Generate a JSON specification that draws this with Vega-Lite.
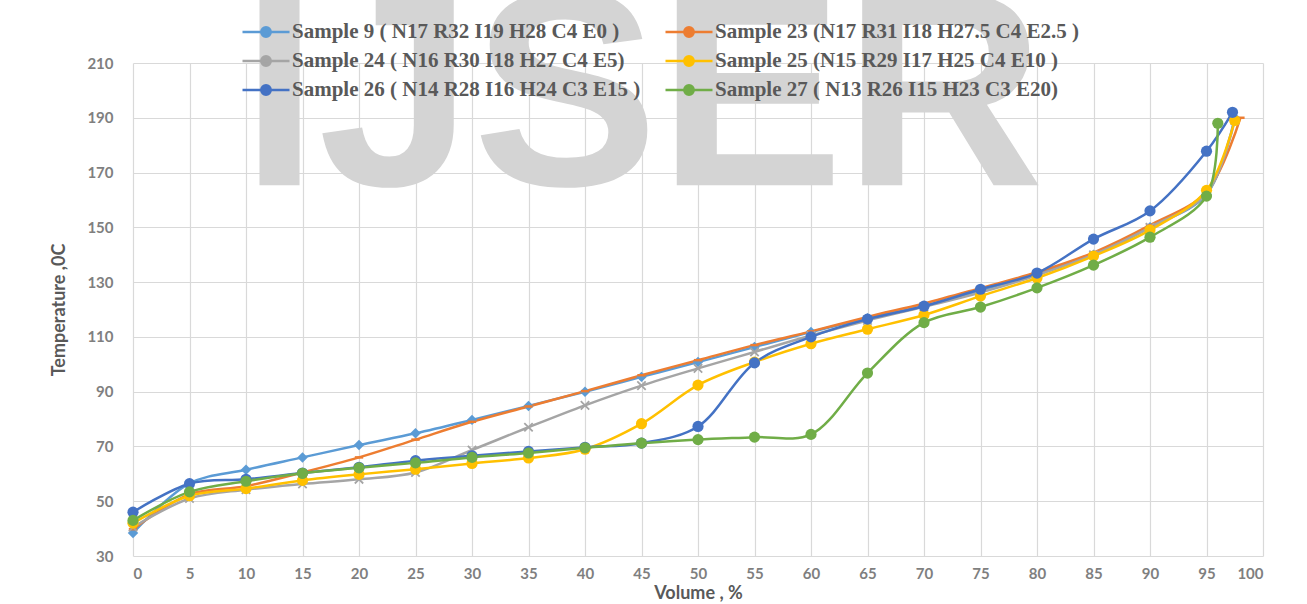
{
  "$schema": "https://vega.github.io/schema/vega-lite/v6.json",
  "width": 1130,
  "height": 493,
  "autosize": {"type": "none"},
  "padding": {"left": 133, "top": 63, "right": 44, "bottom": 48},
  "background": "white",
  "config": {
    "view": {"stroke": null},
    "font": "Lato",
    "axis": {
      "grid": true,
      "gridColor": "#d9d9d9",
      "gridWidth": 1.2,
      "ticks": false,
      "domain": false,
      "labelFont": "Lato",
      "labelFontSize": 15,
      "labelFontWeight": "bold",
      "labelColor": "#7f7f7f",
      "titleFont": "Lato",
      "titleFontSize": 18,
      "titleFontWeight": "bold",
      "titleColor": "#595959"
    },
    "axisX": {"labelPadding": 10, "titlePadding": 3},
    "axisY": {"labelPadding": 20, "titlePadding": 18}
  },
  "datasets": {
    "curves": [
      {"sample": "Sample 9 ( N17 R32 I19 H28 C4 E0 )", "volume": 0, "temp": 38.4},
      {"sample": "Sample 9 ( N17 R32 I19 H28 C4 E0 )", "volume": 5, "temp": 56.5},
      {"sample": "Sample 9 ( N17 R32 I19 H28 C4 E0 )", "volume": 10, "temp": 61.5},
      {"sample": "Sample 9 ( N17 R32 I19 H28 C4 E0 )", "volume": 15, "temp": 66},
      {"sample": "Sample 9 ( N17 R32 I19 H28 C4 E0 )", "volume": 20, "temp": 70.5},
      {"sample": "Sample 9 ( N17 R32 I19 H28 C4 E0 )", "volume": 25, "temp": 74.8},
      {"sample": "Sample 9 ( N17 R32 I19 H28 C4 E0 )", "volume": 30, "temp": 79.7},
      {"sample": "Sample 9 ( N17 R32 I19 H28 C4 E0 )", "volume": 35, "temp": 84.8},
      {"sample": "Sample 9 ( N17 R32 I19 H28 C4 E0 )", "volume": 40, "temp": 90},
      {"sample": "Sample 9 ( N17 R32 I19 H28 C4 E0 )", "volume": 45, "temp": 95.4},
      {"sample": "Sample 9 ( N17 R32 I19 H28 C4 E0 )", "volume": 50, "temp": 100.8},
      {"sample": "Sample 9 ( N17 R32 I19 H28 C4 E0 )", "volume": 55, "temp": 106.3},
      {"sample": "Sample 9 ( N17 R32 I19 H28 C4 E0 )", "volume": 60, "temp": 111.8},
      {"sample": "Sample 9 ( N17 R32 I19 H28 C4 E0 )", "volume": 65, "temp": 116.8},
      {"sample": "Sample 9 ( N17 R32 I19 H28 C4 E0 )", "volume": 70, "temp": 121.3},
      {"sample": "Sample 9 ( N17 R32 I19 H28 C4 E0 )", "volume": 75, "temp": 127},
      {"sample": "Sample 9 ( N17 R32 I19 H28 C4 E0 )", "volume": 80, "temp": 133},
      {"sample": "Sample 9 ( N17 R32 I19 H28 C4 E0 )", "volume": 85, "temp": 140},
      {"sample": "Sample 9 ( N17 R32 I19 H28 C4 E0 )", "volume": 90, "temp": 150},
      {"sample": "Sample 9 ( N17 R32 I19 H28 C4 E0 )", "volume": 95, "temp": 162},
      {"sample": "Sample 9 ( N17 R32 I19 H28 C4 E0 )", "volume": 97.5, "temp": 190},

      {"sample": "Sample 23 (N17 R31 I18 H27.5 C4 E2.5 )", "volume": 0, "temp": 39.8},
      {"sample": "Sample 23 (N17 R31 I18 H27.5 C4 E2.5 )", "volume": 5, "temp": 52.5},
      {"sample": "Sample 23 (N17 R31 I18 H27.5 C4 E2.5 )", "volume": 10, "temp": 55.5},
      {"sample": "Sample 23 (N17 R31 I18 H27.5 C4 E2.5 )", "volume": 15, "temp": 60.5},
      {"sample": "Sample 23 (N17 R31 I18 H27.5 C4 E2.5 )", "volume": 20, "temp": 66},
      {"sample": "Sample 23 (N17 R31 I18 H27.5 C4 E2.5 )", "volume": 25, "temp": 72.5},
      {"sample": "Sample 23 (N17 R31 I18 H27.5 C4 E2.5 )", "volume": 30, "temp": 79},
      {"sample": "Sample 23 (N17 R31 I18 H27.5 C4 E2.5 )", "volume": 35, "temp": 84.6},
      {"sample": "Sample 23 (N17 R31 I18 H27.5 C4 E2.5 )", "volume": 40, "temp": 90.2},
      {"sample": "Sample 23 (N17 R31 I18 H27.5 C4 E2.5 )", "volume": 45, "temp": 96},
      {"sample": "Sample 23 (N17 R31 I18 H27.5 C4 E2.5 )", "volume": 50, "temp": 101.5},
      {"sample": "Sample 23 (N17 R31 I18 H27.5 C4 E2.5 )", "volume": 55, "temp": 107},
      {"sample": "Sample 23 (N17 R31 I18 H27.5 C4 E2.5 )", "volume": 60, "temp": 112},
      {"sample": "Sample 23 (N17 R31 I18 H27.5 C4 E2.5 )", "volume": 65, "temp": 117.3},
      {"sample": "Sample 23 (N17 R31 I18 H27.5 C4 E2.5 )", "volume": 70, "temp": 122.2},
      {"sample": "Sample 23 (N17 R31 I18 H27.5 C4 E2.5 )", "volume": 75, "temp": 127.8},
      {"sample": "Sample 23 (N17 R31 I18 H27.5 C4 E2.5 )", "volume": 80, "temp": 133.6},
      {"sample": "Sample 23 (N17 R31 I18 H27.5 C4 E2.5 )", "volume": 85, "temp": 140.8},
      {"sample": "Sample 23 (N17 R31 I18 H27.5 C4 E2.5 )", "volume": 90, "temp": 150.8},
      {"sample": "Sample 23 (N17 R31 I18 H27.5 C4 E2.5 )", "volume": 95, "temp": 163},
      {"sample": "Sample 23 (N17 R31 I18 H27.5 C4 E2.5 )", "volume": 98, "temp": 190},

      {"sample": "Sample 24 ( N16 R30 I18 H27 C4 E5)", "volume": 0, "temp": 40.5},
      {"sample": "Sample 24 ( N16 R30 I18 H27 C4 E5)", "volume": 5, "temp": 51},
      {"sample": "Sample 24 ( N16 R30 I18 H27 C4 E5)", "volume": 10, "temp": 54.2},
      {"sample": "Sample 24 ( N16 R30 I18 H27 C4 E5)", "volume": 15, "temp": 56.3},
      {"sample": "Sample 24 ( N16 R30 I18 H27 C4 E5)", "volume": 20, "temp": 58},
      {"sample": "Sample 24 ( N16 R30 I18 H27 C4 E5)", "volume": 25, "temp": 60.5},
      {"sample": "Sample 24 ( N16 R30 I18 H27 C4 E5)", "volume": 30, "temp": 68.7},
      {"sample": "Sample 24 ( N16 R30 I18 H27 C4 E5)", "volume": 35, "temp": 77},
      {"sample": "Sample 24 ( N16 R30 I18 H27 C4 E5)", "volume": 40, "temp": 85},
      {"sample": "Sample 24 ( N16 R30 I18 H27 C4 E5)", "volume": 45, "temp": 92.2},
      {"sample": "Sample 24 ( N16 R30 I18 H27 C4 E5)", "volume": 50, "temp": 98.5},
      {"sample": "Sample 24 ( N16 R30 I18 H27 C4 E5)", "volume": 55, "temp": 104.5},
      {"sample": "Sample 24 ( N16 R30 I18 H27 C4 E5)", "volume": 60, "temp": 110.5},
      {"sample": "Sample 24 ( N16 R30 I18 H27 C4 E5)", "volume": 65, "temp": 116},
      {"sample": "Sample 24 ( N16 R30 I18 H27 C4 E5)", "volume": 70, "temp": 121},
      {"sample": "Sample 24 ( N16 R30 I18 H27 C4 E5)", "volume": 75, "temp": 126.2},
      {"sample": "Sample 24 ( N16 R30 I18 H27 C4 E5)", "volume": 80, "temp": 132.5},
      {"sample": "Sample 24 ( N16 R30 I18 H27 C4 E5)", "volume": 85, "temp": 140},
      {"sample": "Sample 24 ( N16 R30 I18 H27 C4 E5)", "volume": 90, "temp": 150},
      {"sample": "Sample 24 ( N16 R30 I18 H27 C4 E5)", "volume": 95, "temp": 162.3},
      {"sample": "Sample 24 ( N16 R30 I18 H27 C4 E5)", "volume": 97.5, "temp": 189},

      {"sample": "Sample 25 (N15 R29 I17 H25 C4 E10 )", "volume": 0, "temp": 42},
      {"sample": "Sample 25 (N15 R29 I17 H25 C4 E10 )", "volume": 5, "temp": 52},
      {"sample": "Sample 25 (N15 R29 I17 H25 C4 E10 )", "volume": 10, "temp": 54.6},
      {"sample": "Sample 25 (N15 R29 I17 H25 C4 E10 )", "volume": 15, "temp": 57.6},
      {"sample": "Sample 25 (N15 R29 I17 H25 C4 E10 )", "volume": 20, "temp": 59.8},
      {"sample": "Sample 25 (N15 R29 I17 H25 C4 E10 )", "volume": 25, "temp": 61.7},
      {"sample": "Sample 25 (N15 R29 I17 H25 C4 E10 )", "volume": 30, "temp": 63.8},
      {"sample": "Sample 25 (N15 R29 I17 H25 C4 E10 )", "volume": 35, "temp": 65.8},
      {"sample": "Sample 25 (N15 R29 I17 H25 C4 E10 )", "volume": 40, "temp": 69},
      {"sample": "Sample 25 (N15 R29 I17 H25 C4 E10 )", "volume": 45, "temp": 78.3},
      {"sample": "Sample 25 (N15 R29 I17 H25 C4 E10 )", "volume": 50, "temp": 92.4},
      {"sample": "Sample 25 (N15 R29 I17 H25 C4 E10 )", "volume": 55, "temp": 100.8},
      {"sample": "Sample 25 (N15 R29 I17 H25 C4 E10 )", "volume": 60, "temp": 107.5},
      {"sample": "Sample 25 (N15 R29 I17 H25 C4 E10 )", "volume": 65, "temp": 112.8},
      {"sample": "Sample 25 (N15 R29 I17 H25 C4 E10 )", "volume": 70, "temp": 118},
      {"sample": "Sample 25 (N15 R29 I17 H25 C4 E10 )", "volume": 75, "temp": 124.9},
      {"sample": "Sample 25 (N15 R29 I17 H25 C4 E10 )", "volume": 80, "temp": 131.5},
      {"sample": "Sample 25 (N15 R29 I17 H25 C4 E10 )", "volume": 85, "temp": 139.5},
      {"sample": "Sample 25 (N15 R29 I17 H25 C4 E10 )", "volume": 90, "temp": 149},
      {"sample": "Sample 25 (N15 R29 I17 H25 C4 E10 )", "volume": 95, "temp": 163.5},
      {"sample": "Sample 25 (N15 R29 I17 H25 C4 E10 )", "volume": 97.5, "temp": 189},

      {"sample": "Sample 26 ( N14 R28 I16 H24 C3 E15 )", "volume": 0, "temp": 46},
      {"sample": "Sample 26 ( N14 R28 I16 H24 C3 E15 )", "volume": 5, "temp": 56.4},
      {"sample": "Sample 26 ( N14 R28 I16 H24 C3 E15 )", "volume": 10, "temp": 58},
      {"sample": "Sample 26 ( N14 R28 I16 H24 C3 E15 )", "volume": 15, "temp": 60.3},
      {"sample": "Sample 26 ( N14 R28 I16 H24 C3 E15 )", "volume": 20, "temp": 62.4},
      {"sample": "Sample 26 ( N14 R28 I16 H24 C3 E15 )", "volume": 25, "temp": 64.8},
      {"sample": "Sample 26 ( N14 R28 I16 H24 C3 E15 )", "volume": 30, "temp": 66.6},
      {"sample": "Sample 26 ( N14 R28 I16 H24 C3 E15 )", "volume": 35, "temp": 68.2},
      {"sample": "Sample 26 ( N14 R28 I16 H24 C3 E15 )", "volume": 40, "temp": 69.7},
      {"sample": "Sample 26 ( N14 R28 I16 H24 C3 E15 )", "volume": 45, "temp": 71.2},
      {"sample": "Sample 26 ( N14 R28 I16 H24 C3 E15 )", "volume": 50, "temp": 77.3},
      {"sample": "Sample 26 ( N14 R28 I16 H24 C3 E15 )", "volume": 55, "temp": 100.5},
      {"sample": "Sample 26 ( N14 R28 I16 H24 C3 E15 )", "volume": 60, "temp": 110},
      {"sample": "Sample 26 ( N14 R28 I16 H24 C3 E15 )", "volume": 65, "temp": 116.5},
      {"sample": "Sample 26 ( N14 R28 I16 H24 C3 E15 )", "volume": 70, "temp": 121.2},
      {"sample": "Sample 26 ( N14 R28 I16 H24 C3 E15 )", "volume": 75, "temp": 127.4},
      {"sample": "Sample 26 ( N14 R28 I16 H24 C3 E15 )", "volume": 80, "temp": 133.3},
      {"sample": "Sample 26 ( N14 R28 I16 H24 C3 E15 )", "volume": 85, "temp": 145.7},
      {"sample": "Sample 26 ( N14 R28 I16 H24 C3 E15 )", "volume": 90, "temp": 156},
      {"sample": "Sample 26 ( N14 R28 I16 H24 C3 E15 )", "volume": 95, "temp": 177.8},
      {"sample": "Sample 26 ( N14 R28 I16 H24 C3 E15 )", "volume": 97.3, "temp": 192},

      {"sample": "Sample 27 ( N13 R26 I15 H23 C3 E20)", "volume": 0, "temp": 43},
      {"sample": "Sample 27 ( N13 R26 I15 H23 C3 E20)", "volume": 5, "temp": 53.4},
      {"sample": "Sample 27 ( N13 R26 I15 H23 C3 E20)", "volume": 10, "temp": 57.3},
      {"sample": "Sample 27 ( N13 R26 I15 H23 C3 E20)", "volume": 15, "temp": 60.2},
      {"sample": "Sample 27 ( N13 R26 I15 H23 C3 E20)", "volume": 20, "temp": 62.2},
      {"sample": "Sample 27 ( N13 R26 I15 H23 C3 E20)", "volume": 25, "temp": 64},
      {"sample": "Sample 27 ( N13 R26 I15 H23 C3 E20)", "volume": 30, "temp": 66},
      {"sample": "Sample 27 ( N13 R26 I15 H23 C3 E20)", "volume": 35, "temp": 67.6},
      {"sample": "Sample 27 ( N13 R26 I15 H23 C3 E20)", "volume": 40, "temp": 69.5},
      {"sample": "Sample 27 ( N13 R26 I15 H23 C3 E20)", "volume": 45, "temp": 71.2},
      {"sample": "Sample 27 ( N13 R26 I15 H23 C3 E20)", "volume": 50, "temp": 72.5},
      {"sample": "Sample 27 ( N13 R26 I15 H23 C3 E20)", "volume": 55, "temp": 73.4},
      {"sample": "Sample 27 ( N13 R26 I15 H23 C3 E20)", "volume": 60, "temp": 74.4},
      {"sample": "Sample 27 ( N13 R26 I15 H23 C3 E20)", "volume": 65, "temp": 96.8},
      {"sample": "Sample 27 ( N13 R26 I15 H23 C3 E20)", "volume": 70, "temp": 115.2},
      {"sample": "Sample 27 ( N13 R26 I15 H23 C3 E20)", "volume": 75, "temp": 120.9},
      {"sample": "Sample 27 ( N13 R26 I15 H23 C3 E20)", "volume": 80, "temp": 127.9},
      {"sample": "Sample 27 ( N13 R26 I15 H23 C3 E20)", "volume": 85, "temp": 136.2},
      {"sample": "Sample 27 ( N13 R26 I15 H23 C3 E20)", "volume": 90, "temp": 146.4},
      {"sample": "Sample 27 ( N13 R26 I15 H23 C3 E20)", "volume": 95, "temp": 161.4},
      {"sample": "Sample 27 ( N13 R26 I15 H23 C3 E20)", "volume": 96, "temp": 188}
    ],
    "watermark": [{"text": "IJSER"}]
  },
  "layer": [
    {
      "data": {"name": "watermark"},
      "mark": {"type": "text", "font": "Liberation Sans", "fontWeight": "bold", "fontSize": 278, "fill": "#d4d4d4", "align": "center", "baseline": "alphabetic"},
      "encoding": {
        "text": {"field": "text", "type": "nominal"},
        "x": {"datum": 45.1, "type": "quantitative", "scale": {"domain": [0, 100], "nice": false}, "axis": {"title": "Volume , %", "values": [0,5,10,15,20,25,30,35,40,45,50,55,60,65,70,75,80,85,90,95,100]}},
        "y": {"datum": 165.4, "type": "quantitative", "scale": {"domain": [30, 210], "nice": false}, "axis": {"title": "Temperature ,0C", "values": [30,50,70,90,110,130,150,170,190,210]}}
      }
    },
    {
      "data": {"name": "curves"},
      "encoding": {
        "x": {"field": "volume", "type": "quantitative", "scale": {"domain": [0, 100], "nice": false}, "axis": {"title": "Volume , %", "values": [0,5,10,15,20,25,30,35,40,45,50,55,60,65,70,75,80,85,90,95,100]}},
        "y": {"field": "temp", "type": "quantitative", "scale": {"domain": [30, 210], "nice": false}, "axis": {"title": "Temperature ,0C", "values": [30,50,70,90,110,130,150,170,190,210]}},
        "color": {
          "field": "sample",
          "type": "nominal",
          "scale": {
            "domain": ["Sample 9 ( N17 R32 I19 H28 C4 E0 )", "Sample 23 (N17 R31 I18 H27.5 C4 E2.5 )", "Sample 24 ( N16 R30 I18 H27 C4 E5)", "Sample 25 (N15 R29 I17 H25 C4 E10 )", "Sample 26 ( N14 R28 I16 H24 C3 E15 )", "Sample 27 ( N13 R26 I15 H23 C3 E20)"],
            "range": ["#5B9BD5", "#ED7D31", "#A5A5A5", "#FFC000", "#4472C4", "#70AD47"]
          },
          "legend": {
            "title": null,
            "orient": "none",
            "direction": "horizontal",
            "legendX": 108,
            "legendY": -41,
            "columns": 2,
            "columnPadding": 23,
            "rowPadding": 8,
            "padding": 0,
            "clipHeight": 20,
            "symbolType": "M-1,0H1M0.2,0A0.2,0.2,0,1,1,-0.2,0A0.2,0.2,0,1,1,0.2,0Z",
            "symbolSize": 2209,
            "symbolStrokeWidth": 2.5,
            "labelFont": "Liberation Serif",
            "labelFontSize": 21,
            "labelFontWeight": "bold",
            "labelColor": "#595959",
            "labelOffset": 1,
            "labelLimit": 600
          }
        }
      },
      "layer": [
        {"mark": {"type": "line", "interpolate": "catmull-rom", "strokeWidth": 2.5}},
        {
          "transform": [{"filter": {"field": "sample", "equal": "Sample 9 ( N17 R32 I19 H28 C4 E0 )"}}],
          "mark": {"type": "point", "shape": "diamond", "filled": true, "opacity": 1, "size": 110}
        },
        {
          "transform": [{"filter": {"field": "sample", "equal": "Sample 23 (N17 R31 I18 H27.5 C4 E2.5 )"}}],
          "mark": {"type": "point", "shape": "M-1,-0.3H1V0.3H-1Z", "filled": true, "opacity": 1, "size": 70}
        },
        {
          "transform": [{"filter": {"field": "sample", "equal": "Sample 24 ( N16 R30 I18 H27 C4 E5)"}}],
          "mark": {"type": "point", "shape": "M-0.8,-0.8L0.8,0.8M-0.8,0.8L0.8,-0.8", "filled": false, "opacity": 1, "size": 110, "strokeWidth": 1.8}
        },
        {
          "transform": [{"filter": {"field": "sample", "oneOf": ["Sample 25 (N15 R29 I17 H25 C4 E10 )", "Sample 26 ( N14 R28 I16 H24 C3 E15 )", "Sample 27 ( N13 R26 I15 H23 C3 E20)"]}}],
          "mark": {"type": "point", "shape": "circle", "filled": true, "opacity": 1, "size": 125}
        }
      ]
    }
  ]
}
